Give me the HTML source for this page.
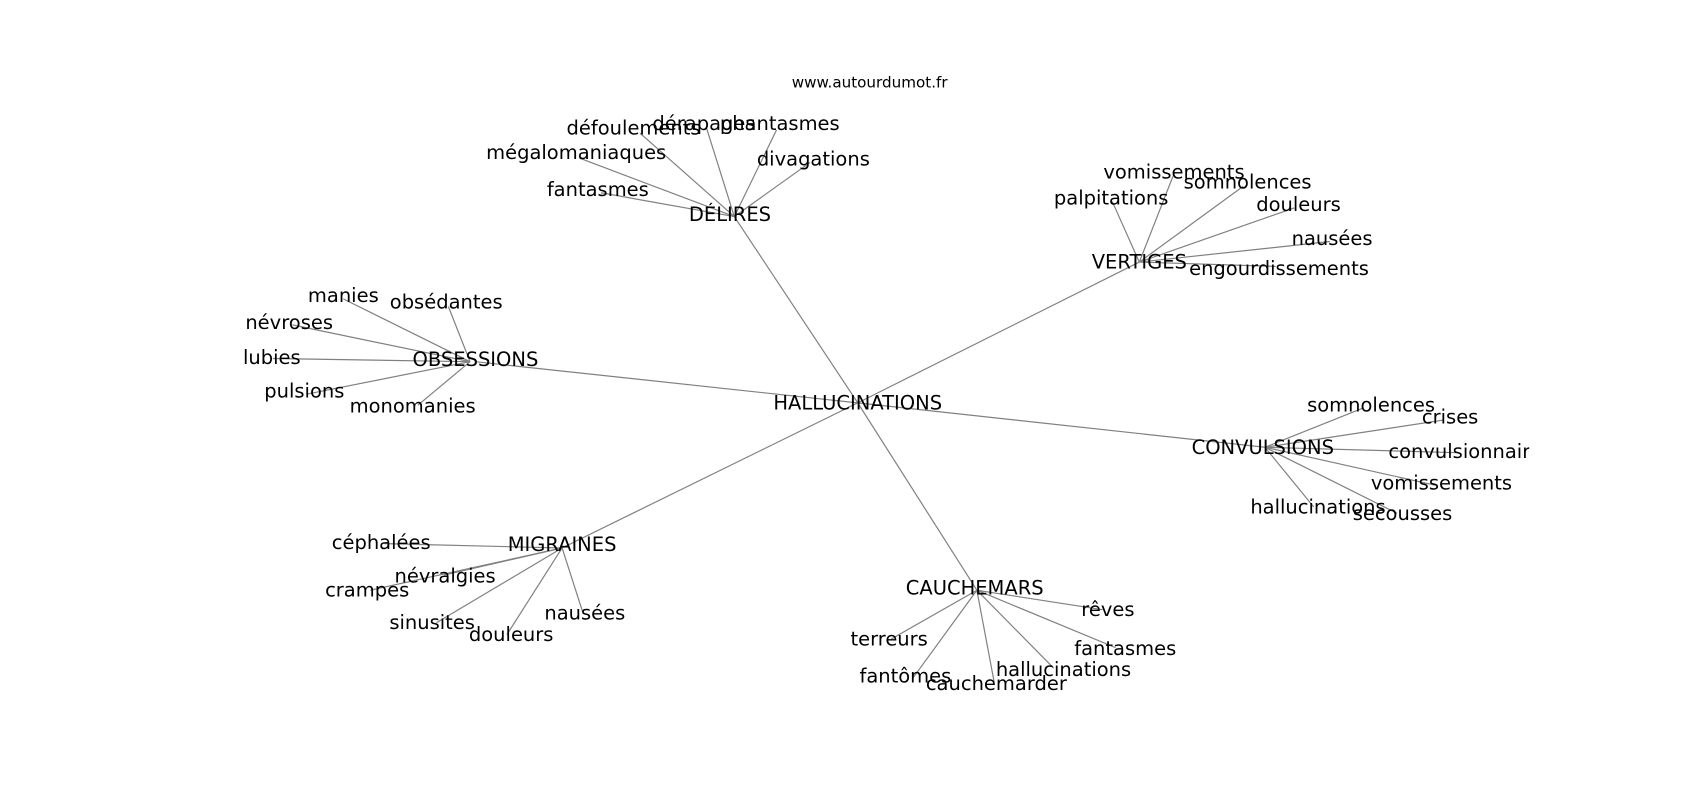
<!DOCTYPE html>
<html><head><meta charset="utf-8"><style>
html,body{margin:0;padding:0;background:#fff;}
svg{display:block;}
text{font-family:"DejaVu Sans","Liberation Sans",sans-serif;font-size:18px;fill:#000;text-anchor:middle;dominant-baseline:central;}
line{stroke:#808080;stroke-width:1.1;}
</style></head><body>
<svg width="1700" height="800" viewBox="0 0 1569.7 738.7" xmlns="http://www.w3.org/2000/svg">
<defs><clipPath id="c"><rect x="0" y="0" width="1412" height="738.7"/></clipPath></defs>
<g>
<!-- hub edges -->
<line x1="792" y1="372" x2="678" y2="200"/>
<line x1="792" y1="372" x2="1052" y2="242"/>
<line x1="792" y1="372" x2="439" y2="334"/>
<line x1="792" y1="372" x2="1168" y2="413"/>
<line x1="792" y1="372" x2="519" y2="506"/>
<line x1="792" y1="372" x2="902" y2="545"/>
<!-- DELIRES -->
<line x1="678" y1="200" x2="591" y2="123"/>
<line x1="678" y1="200" x2="652" y2="117"/>
<line x1="678" y1="200" x2="717" y2="120"/>
<line x1="678" y1="200" x2="535" y2="146"/>
<line x1="678" y1="200" x2="748" y2="150"/>
<line x1="678" y1="200" x2="555" y2="178"/>
<!-- VERTIGES -->
<line x1="1052" y1="242" x2="1083" y2="163"/>
<line x1="1052" y1="242" x2="1148" y2="172"/>
<line x1="1052" y1="242" x2="1027" y2="186"/>
<line x1="1052" y1="242" x2="1195" y2="192"/>
<line x1="1052" y1="242" x2="1228" y2="223"/>
<line x1="1052" y1="242" x2="1178" y2="246"/>
<!-- OBSESSIONS -->
<line x1="434" y1="334" x2="317" y2="276"/>
<line x1="434" y1="334" x2="414" y2="283"/>
<line x1="434" y1="334" x2="270" y2="300"/>
<line x1="434" y1="334" x2="252" y2="331"/>
<line x1="434" y1="334" x2="283" y2="364"/>
<line x1="434" y1="334" x2="386" y2="374"/>
<!-- CONVULSIONS -->
<line x1="1168" y1="413" x2="1258" y2="377"/>
<line x1="1168" y1="413" x2="1332" y2="388"/>
<line x1="1168" y1="413" x2="1345" y2="418"/>
<line x1="1168" y1="413" x2="1325" y2="448"/>
<line x1="1168" y1="413" x2="1213" y2="468"/>
<line x1="1168" y1="413" x2="1290" y2="474"/>
<!-- MIGRAINES -->
<line x1="519" y1="506" x2="355" y2="502"/>
<line x1="519" y1="506" x2="410" y2="531"/>
<line x1="519" y1="506" x2="342" y2="545"/>
<line x1="519" y1="506" x2="403" y2="575"/>
<line x1="519" y1="506" x2="468" y2="586"/>
<line x1="519" y1="506" x2="538" y2="565"/>
<!-- CAUCHEMARS -->
<line x1="902" y1="545" x2="1018" y2="563"/>
<line x1="902" y1="545" x2="823" y2="590"/>
<line x1="902" y1="545" x2="1030" y2="598"/>
<line x1="902" y1="545" x2="973" y2="617"/>
<line x1="902" y1="545" x2="843" y2="626"/>
<line x1="902" y1="545" x2="918" y2="630"/>
</g>
<text x="803" y="76" style="font-size:14px">www.autourdumot.fr</text>
<text x="792" y="372">HALLUCINATIONS</text>
<text x="674" y="198">DÉLIRES</text>
<text x="585" y="118">défoulements</text>
<text x="650" y="114">dérapages</text>
<text x="720" y="114">phantasmes</text>
<text x="532" y="141">mégalomaniaques</text>
<text x="751" y="147">divagations</text>
<text x="552" y="175">fantasmes</text>
<text x="1052" y="242">VERTIGES</text>
<text x="1084" y="159">vomissements</text>
<text x="1152" y="168">somnolences</text>
<text x="1026" y="183">palpitations</text>
<text x="1199" y="189">douleurs</text>
<text x="1230" y="220">nausées</text>
<text x="1181" y="248">engourdissements</text>
<text x="439" y="332">OBSESSIONS</text>
<text x="317" y="273">manies</text>
<text x="412" y="279">obsédantes</text>
<text x="267" y="298">névroses</text>
<text x="251" y="330">lubies</text>
<text x="281" y="361">pulsions</text>
<text x="381" y="375">monomanies</text>
<text x="1166" y="413">CONVULSIONS</text>
<text x="1266" y="374">somnolences</text>
<text x="1339" y="385">crises</text>
<text x="1282" y="417" clip-path="url(#c)" style="text-anchor:start">convulsionnaire</text>
<text x="1331" y="446">vomissements</text>
<text x="1217" y="468">hallucinations</text>
<text x="1295" y="474">secousses</text>
<text x="519" y="503">MIGRAINES</text>
<text x="352" y="501">céphalées</text>
<text x="411" y="532">névralgies</text>
<text x="339" y="545">crampes</text>
<text x="399" y="575">sinusites</text>
<text x="472" y="586">douleurs</text>
<text x="540" y="566">nausées</text>
<text x="900" y="543">CAUCHEMARS</text>
<text x="1023" y="563">rêves</text>
<text x="821" y="590">terreurs</text>
<text x="1039" y="599">fantasmes</text>
<text x="982" y="618">hallucinations</text>
<text x="836" y="624">fantômes</text>
<text x="920" y="631">cauchemarder</text>
</svg>
</body></html>
